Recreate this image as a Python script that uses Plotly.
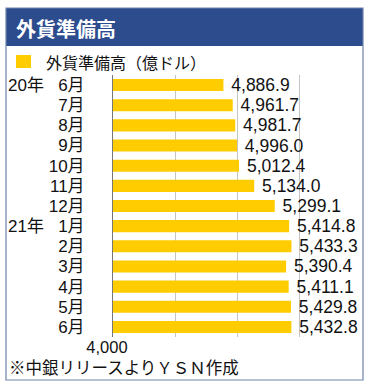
import plotly.graph_objects as go

W, H = 373, 389

categories = ["20年   6月", "7月", "8月", "9月", "10月", "11月", "12月",
              "21年   1月", "2月", "3月", "4月", "5月", "6月"]
values = [4886.9, 4961.7, 4981.7, 4996.0, 5012.4, 5134.0, 5299.1,
          5414.8, 5433.3, 5390.4, 5411.1, 5429.8, 5432.8]
x_tickvals = [4000, 4500, 5000, 5500, 6000]
x_ticktext = ["4,000", "", "", "", ""]

title_text = "外貨準備高"
series_name = "外貨準備高（億ドル）"
note_text = "※中銀リリースよりＹＳＮ作成"

FONT = "Noto Sans CJK JP"
NUMFONT = "Liberation Sans"
MIXFONT = "Liberation Sans, Noto Sans CJK JP"
YELLOW = "#FFCC00"
BLUE = "#2C4C8E"
BORDER = "#6F83AA"
TXT = "#111111"

# plot area in pixels
PL, PR, PT, PB = 113, 362, 75, 337

def px(x):
    return x / W

def py(y):
    return 1 - y / H

fig = go.Figure()
fig.add_trace(go.Bar(
    x=values, y=categories, orientation="h",
    marker=dict(color=YELLOW, line=dict(width=0)),
    name=series_name,
    texttemplate="\u00a0%{x:,.1f}", textposition="outside",
    constraintext="none",
    textfont=dict(family=NUMFONT, size=17.5, color=TXT),
    cliponaxis=False,
    showlegend=False,
))

fig.update_layout(
    width=W, height=H,
    margin=dict(l=0, r=0, t=0, b=0),
    paper_bgcolor="white", plot_bgcolor="white",
    font=dict(family=FONT, size=16, color=TXT),
    bargap=0.4,
    showlegend=False,
    xaxis=dict(
        domain=[px(PL), px(PR)], range=[4000, 6000],
        tickvals=x_tickvals, ticktext=x_ticktext,
        showgrid=True, gridcolor="#C4C4C4", gridwidth=1,
        zeroline=False, showline=False, ticks="",
        ticklabelshift=-6, ticklabelstandoff=-2,
        tickfont=dict(family=NUMFONT, size=16.5, color=TXT),
        automargin=False, fixedrange=True,
    ),
    yaxis=dict(
        domain=[py(PB), py(PT)],
        categoryorder="array", categoryarray=categories,
        autorange="reversed",
        showline=True, linecolor="#777777", linewidth=1,
        showgrid=False, zeroline=False,
        ticks="outside", ticklen=24, tickcolor="rgba(0,0,0,0)",
        tickfont=dict(family=MIXFONT, size=17, color=TXT),
        automargin=False, fixedrange=True,
    ),
    shapes=[
        dict(type="rect", xref="paper", yref="paper",
             x0=px(6), x1=px(363), y0=py(46), y1=py(8),
             fillcolor=BLUE, line=dict(width=0), layer="below"),
        dict(type="rect", xref="paper", yref="paper",
             x0=px(6), x1=px(363), y0=py(380), y1=py(8),
             fillcolor="rgba(0,0,0,0)", line=dict(color=BORDER, width=1.2)),
        # legend swatch
        dict(type="rect", xref="paper", yref="paper",
             x0=px(16), x1=px(31), y0=py(68), y1=py(55),
             fillcolor=YELLOW, line=dict(width=0)),
    ],
    annotations=[
        dict(text="<b>" + title_text + "</b>", xref="paper", yref="paper",
             x=px(14), y=py(28), xanchor="left", yanchor="middle",
             showarrow=False, font=dict(family=FONT, size=20, color="white")),
        dict(text=series_name, xref="paper", yref="paper",
             x=px(44), y=py(62), xanchor="left", yanchor="middle",
             showarrow=False, font=dict(family=FONT, size=16, color=TXT)),
        dict(text=note_text, xref="paper", yref="paper",
             x=px(7), y=py(366.5), xanchor="left", yanchor="middle",
             showarrow=False, font=dict(family=FONT, size=16.5, color=TXT)),
    ],
)

fig.write_html("out.html")
